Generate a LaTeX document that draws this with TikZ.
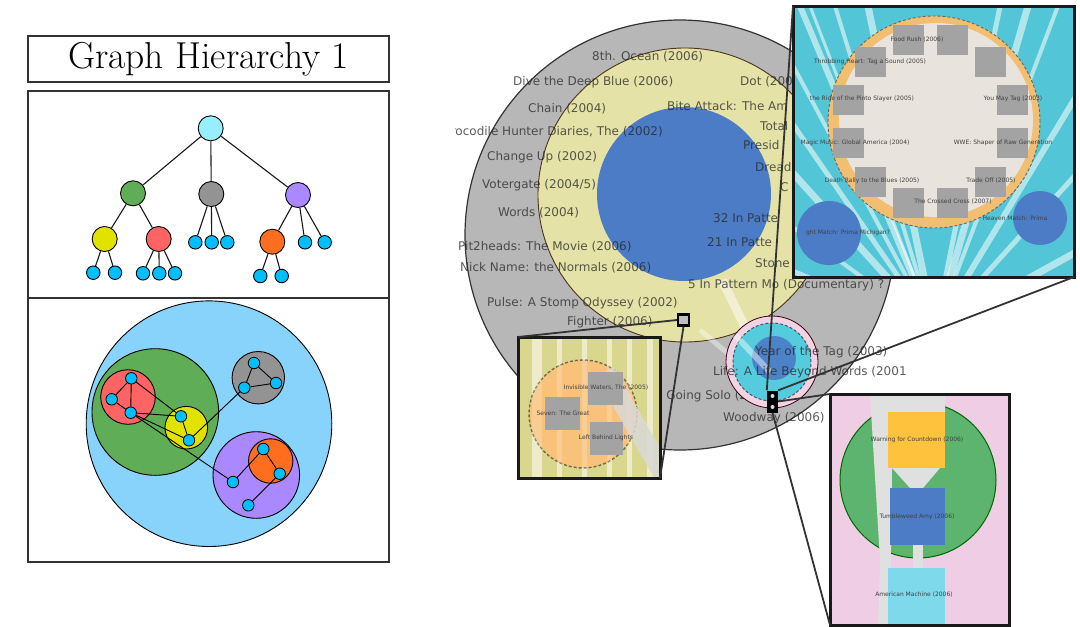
\documentclass[tikz,border=0pt]{standalone}
\usepackage{fontspec}
\newfontfamily\vizfont{DejaVu Sans}
% colours of the hierarchy sketches
\definecolor{rootcyan}{HTML}{97EEFF}
\definecolor{hgreen}{HTML}{5FAD56}
\definecolor{hgray}{HTML}{939393}
\definecolor{hpurple}{HTML}{AA88FF}
\definecolor{hyellow}{HTML}{E2E200}
\definecolor{hred}{HTML}{FF6464}
\definecolor{horange}{HTML}{FF6E1E}
\definecolor{leafblue}{HTML}{00BFFF}
\definecolor{skyfill}{HTML}{87D3FB}
% colours of the zoomable view
\definecolor{ringgray}{HTML}{B7B7B7}
\definecolor{ringyellow}{HTML}{E4E2A6}
\definecolor{coreblue}{HTML}{4C7CC6}
\definecolor{lenscyan}{HTML}{52C6D6}
\definecolor{lensorange}{HTML}{F2BE72}
\definecolor{lenscore}{HTML}{E8E3DC}
\definecolor{boxgray}{HTML}{A3A3A3}
\definecolor{olive}{HTML}{D9D78E}
\definecolor{olivelight}{HTML}{E9E7BC}
\definecolor{peach}{HTML}{F8C27A}
\definecolor{pinkbg}{HTML}{EFCDE4}
\definecolor{lensgreen}{HTML}{5DB46E}
\definecolor{goldbox}{HTML}{FFC23C}
\definecolor{skybox}{HTML}{7ED9EA}
\definecolor{pinkring}{HTML}{F1D3E3}
\definecolor{smallcyan}{HTML}{55CCDD}
\begin{document}
\begin{tikzpicture}[x=1pt,y=-1pt,
  frame/.style={draw=black!80,line width=1.8pt},
  tedge/.style={draw=black!90,line width=1.1pt},
  hub/.style={circle,draw=black,line width=0.9pt,minimum size=25pt,inner sep=0pt},
  leaf/.style={circle,draw=black,line width=0.9pt,fill=leafblue,minimum size=13.5pt,inner sep=0pt},
  cleaf/.style={circle,draw=black,line width=0.8pt,fill=leafblue,minimum size=11.5pt,inner sep=0pt},
  cluster/.style={circle,draw=black,line width=0.9pt,inner sep=0pt},
  lbl/.style={font=\vizfont\fontsize{12}{13}\selectfont,text=black!85,text opacity=0.75,anchor=west,inner sep=0pt},
  tiny/.style={font=\vizfont\fontsize{6}{7}\selectfont,text=black!75,inner sep=0pt},
  streak/.style={draw=white,opacity=0.55,line cap=round},
  lensframe/.style={draw=black!90,line width=3pt},
  conn/.style={draw=black!80,line width=1.8pt},
  graybox/.style={fill=boxgray}
]
\useasboundingbox (0,0) rectangle (1080,627);

% ---------------- left column: title and two panels ----------------
\node[draw=black!80,line width=1.8pt,minimum width=361pt,minimum height=46pt,inner sep=0pt,
      font=\fontsize{37.5}{40}\selectfont] (title) at (208.5,59) {Graph Hierarchy 1};
\draw[frame] (28,91) rectangle (389,298);
\draw[frame] (28,298) rectangle (389,562);

% tree view
\node[hub,fill=rootcyan] (root) at (210.7,128.3) {};
\node[hub,fill=hgreen]   (tg)  at (133,193.3) {};
\node[hub,fill=hgray]    (tk)  at (211.3,194) {};
\node[hub,fill=hpurple]  (tp)  at (298,195) {};
\node[hub,fill=hyellow]  (ty)  at (104.7,239) {};
\node[hub,fill=hred]     (tr)  at (158.7,239) {};
\node[hub,fill=horange]  (to)  at (272.3,241.7) {};
\node[leaf] (tk1) at (195.3,242.3) {};
\node[leaf] (tk2) at (211.7,242.3) {};
\node[leaf] (tk3) at (227.3,242.3) {};
\node[leaf] (tp1) at (305,242.3) {};
\node[leaf] (tp2) at (324.7,242.3) {};
\node[leaf] (ty1) at (93.3,272.7) {};
\node[leaf] (ty2) at (115,272.7) {};
\node[leaf] (tr1) at (143,273.3) {};
\node[leaf] (tr2) at (159.3,273.3) {};
\node[leaf] (tr3) at (175,273.3) {};
\node[leaf] (to1) at (260.3,276) {};
\node[leaf] (to2) at (281.7,276) {};
\foreach \a/\b in {root/tg,root/tk,root/tp,tg/ty,tg/tr,tk/tk1,tk/tk2,tk/tk3,
                   tp/to,tp/tp1,tp/tp2,ty/ty1,ty/ty2,tr/tr1,tr/tr2,tr/tr3,to/to1,to/to2}
  \draw[tedge] (\a) -- (\b);

% nested cluster view
\node[cluster,fill=skyfill,minimum size=245.6pt] (csky) at (209,423.7) {};
\node[cluster,fill=hgreen,minimum size=126.6pt]  (cgreen) at (155.3,412) {};
\node[cluster,fill=hred,minimum size=54.6pt]     (cred) at (128,397) {};
\node[cluster,fill=hyellow,minimum size=42.6pt]  (cyel) at (186.3,427.7) {};
\node[cluster,fill=hgray,minimum size=52.4pt]    (cgray) at (258.3,377.7) {};
\node[cluster,fill=hpurple,minimum size=86.6pt]  (cpur) at (256.3,475) {};
\node[cluster,fill=horange,minimum size=44.4pt]  (cora) at (270.7,461) {};
\node[cleaf] (r1) at (131.3,378.3) {};
\node[cleaf] (r2) at (111.7,399.3) {};
\node[cleaf] (r3) at (130.7,412.7) {};
\node[cleaf] (y1) at (181,416.3) {};
\node[cleaf] (y2) at (189,440.3) {};
\node[cleaf] (g1) at (254,363) {};
\node[cleaf] (g2) at (276,383) {};
\node[cleaf] (g3) at (244.3,387.7) {};
\node[cleaf] (o1) at (263.3,449) {};
\node[cleaf] (o2) at (279.7,473.7) {};
\node[cleaf] (p1) at (233,482) {};
\node[cleaf] (p2) at (248.3,505.3) {};
\foreach \a/\b in {r1/r2,r2/r3,r1/r3,r1/y1,r3/y1,r3/y2,y1/y2,y2/g3,
                   g1/g2,g2/g3,g1/g3,r3/p1,p1/o1,o1/o2,o2/p2}
  \draw[draw=black,line width=0.9pt] (\a) -- (\b);

% ---------------- right column: radial layout with lenses ----------------
\begin{scope}
\clip (455,0) rectangle (1080,627);
\filldraw[fill=ringgray,draw=black!80,line width=1.2pt] (680,235) circle[radius=215pt];
\filldraw[fill=ringyellow,draw=black!60!brown,line width=0.9pt] (685,195) circle[radius=147pt];
\fill[coreblue] (684,194) circle[radius=87pt];
% edge bundle running towards the small cluster
\draw[white,opacity=0.5,line width=9pt] (722,280) -- (765,368);
\draw[white,opacity=0.4,line width=5pt] (700,330) -- (750,372);

\node[lbl] (t1)  at (592,57)  {8th. Ocean (2006)};
\node[lbl] (t2)  at (513,82)  {Dive the Deep Blue (2006)};
\node[lbl] (t3)  at (740,82)  {Dot (200};
\node[lbl] (t4)  at (528,109) {Chain (2004)};
\node[lbl] (t5)  at (667,106) {Bite Attack: The Am};
\node[lbl,anchor=east] (t6) at (663,132) {Crocodile Hunter Diaries, The (2002)};
\node[lbl] (t7)  at (760,126) {Total};
\node[lbl] (t8)  at (487,157) {Change Up (2002)};
\node[lbl] (t9)  at (743,145) {Presid};
\node[lbl] (t10) at (482,185) {Votergate (2004/5)};
\node[lbl] (t11) at (755,167) {Dread};
\node[lbl] (t12) at (780,187) {C};
\node[lbl] (t13) at (498,213) {Words (2004)};
\node[lbl] (t14) at (713,218) {32 In Patte};
\node[lbl] (t15) at (458,247) {Pit2heads: The Movie (2006)};
\node[lbl] (t16) at (707,242) {21 In Patte};
\node[lbl] (t17) at (460,268) {Nick Name: the Normals (2006)};
\node[lbl] (t18) at (755,263) {Stone};
\node[lbl] (t19) at (688,285) {5 In Pattern Mo (Documentary) ?};
\node[lbl] (t20) at (487,303) {Pulse: A Stomp Odyssey (2002)};
\node[lbl] (t21) at (567,322) {Fighter (2006)};
\node[lbl] (t22) at (640,396) {The Going Solo (2004)};
\node[lbl] (t23) at (723,418) {Woodway (2006)};

% small cluster
\filldraw[fill=pinkring,draw=black!70!purple,line width=0.8pt] (772,362) circle[radius=46pt];
\filldraw[fill=smallcyan,draw=black!70!cyan,densely dashed,line width=1pt] (772,362) circle[radius=39pt];
\fill[coreblue,opacity=0.9] (774,358) circle[radius=22pt];
\draw[white,opacity=0.45,line width=6pt] (735,335) -- (770,372);
\node[lbl] (t24) at (755,352) {Year of the Tag (2003)};
\node[lbl] (t25) at (713,372) {Life: A Life Beyond Words (2001};

% markers of the zoomed regions
\node[draw=black,line width=2.2pt,fill=black!25,minimum size=11pt,inner sep=0pt] (m1) at (683.5,320) {};
\node[fill=black,minimum width=11pt,minimum height=22pt,inner sep=0pt] (m2) at (772.5,401.5) {};
\fill[white!85!black] (772.5,396) circle[radius=2pt] (772.5,407) circle[radius=2pt];
\end{scope}

% ---- lens: top right ----
\coordinate (trnw) at (793,6);
\coordinate (trse) at (1074,277);
\begin{scope}
\clip (trnw) rectangle (trse);
\fill[lenscyan] (trnw) rectangle (trse);
\foreach \tx/\ty/\w in {790/120/5,790/170/7,790/225/4,800/6/6,835/6/4,868/6/7,
                        1000/6/5,1028/6/7,1058/6/4,1080/90/6,1080/170/5,1080/250/7,
                        790/270/5,1080/290/4,810/6/3,790/60/4}
  \draw[streak,line width=\w pt] (935,330) -- (\tx,\ty);
\fill[lensorange] (934,122) circle[radius=106pt];
\fill[lenscore] (936,120) circle[radius=97pt];
\draw[black!60,densely dashed,line width=0.9pt] (934,122) circle[radius=106pt];
\foreach \x/\y in {893/25,937/25,855/47,975/47,833/85,997/85,
                   833/128,997/128,855/167,975/167,893/188,937/188}
  \fill[graybox] (\x,\y) rectangle ++(31,30);
\fill[coreblue] (829,233) circle[radius=32pt];
\fill[coreblue] (1040,218) circle[radius=27pt];
\node[tiny] (l1)  at (917,40)  {Food Rush (2006)};
\node[tiny] (l2)  at (870,62)  {Throbbing Heart: Tag a Sound (2005)};
\node[tiny] (l3)  at (862,99)  {the Ride of the Pinto Slayer (2005)};
\node[tiny] (l4)  at (1013,99) {You May Tag (2003)};
\node[tiny] (l5)  at (855,143) {Magic Music: Global America (2004)};
\node[tiny] (l6)  at (1003,143){WWE: Shaper of Raw Generation};
\node[tiny] (l7)  at (872,181) {Death Rally to the Blues (2005)};
\node[tiny] (l8)  at (991,181) {Trade Off (2005)};
\node[tiny] (l9)  at (953,202) {The Crossed Cross (2007)};
\node[tiny] (l10) at (1015,218){Heaven Match: Prima};
\node[tiny] (l11) at (848,233) {ght Match: Prima Michigan?};
\end{scope}
\draw[lensframe] (trnw) rectangle (trse);

% ---- lens: bottom left ----
\coordinate (blnw) at (518,337);
\coordinate (blse) at (660,478);
\begin{scope}
\clip (blnw) rectangle (blse);
\fill[olive] (blnw) rectangle (blse);
\foreach \x/\w in {532/10,557/5,582/5,607/5,627/5,647/6}
  \fill[olivelight] (\x,337) rectangle ++(\w,141);
\filldraw[fill=peach,draw=black!50!olive,densely dashed,line width=1.4pt] (583,414) circle[radius=54pt];
\foreach \x/\w in {532/10,557/5,582/5,607/5,627/5,647/6}
  \fill[white,opacity=0.2] (\x,337) rectangle ++(\w,141);
\draw[black!15,opacity=0.85,line width=20pt] (605,372) -- (668,482);
\fill[graybox] (588,372) rectangle (623,405);
\fill[graybox] (545,397) rectangle (580,430);
\fill[graybox] (590,422) rectangle (623,455);
\node[tiny] (b1) at (606,388) {Invisible Waters, The (2005)};
\node[tiny] (b2) at (563,413) {Seven: The Great};
\node[tiny] (b3) at (606,438) {Left Behind Lights};
\end{scope}
\draw[lensframe] (blnw) rectangle (blse);

% ---- lens: bottom right ----
\coordinate (brnw) at (830,394);
\coordinate (brse) at (1009,625);
\begin{scope}
\clip (brnw) rectangle (brse);
\fill[pinkbg] (brnw) rectangle (brse);
\filldraw[fill=lensgreen,draw=black!60!green,line width=1pt] (918,480) circle[radius=78pt];
\fill[black!12] (870,394) -- (893,394) -- (890,625) -- (878,625) -- (880,560) -- cycle;
\fill[black!12] (878,394) -- (945,394) -- (945,412) -- (888,412) -- cycle;
\fill[black!12] (892,468) -- (940,468) -- (923,488) -- (910,488) -- cycle;
\fill[black!12] (913,545) rectangle (923,568);
\fill[goldbox] (888,412) rectangle (945,468);
\fill[coreblue] (890,488) rectangle (945,545);
\fill[skybox] (888,568) rectangle (945,625);
\node[tiny] (c1) at (917,440) {Warning for Countdown (2006)};
\node[tiny] (c2) at (917,517) {Tumbleweed Amy (2006)};
\node[tiny] (c3) at (914,595) {American Machine (2006)};
\end{scope}
\draw[lensframe] (brnw) rectangle (brse);

% ---- connectors from markers to lenses ----
\draw[conn] (trnw) -- (m2.north west);
\draw[conn] (trse) -- (m2.north east);
\draw[conn] (blnw) -- (m1.west);
\draw[conn] (blse) -- (m1.south);
\draw[conn] (m2.east) -- (brnw);
\draw[conn] (m2.south) -- (brnw |- brse);
\end{tikzpicture}
\end{document}
